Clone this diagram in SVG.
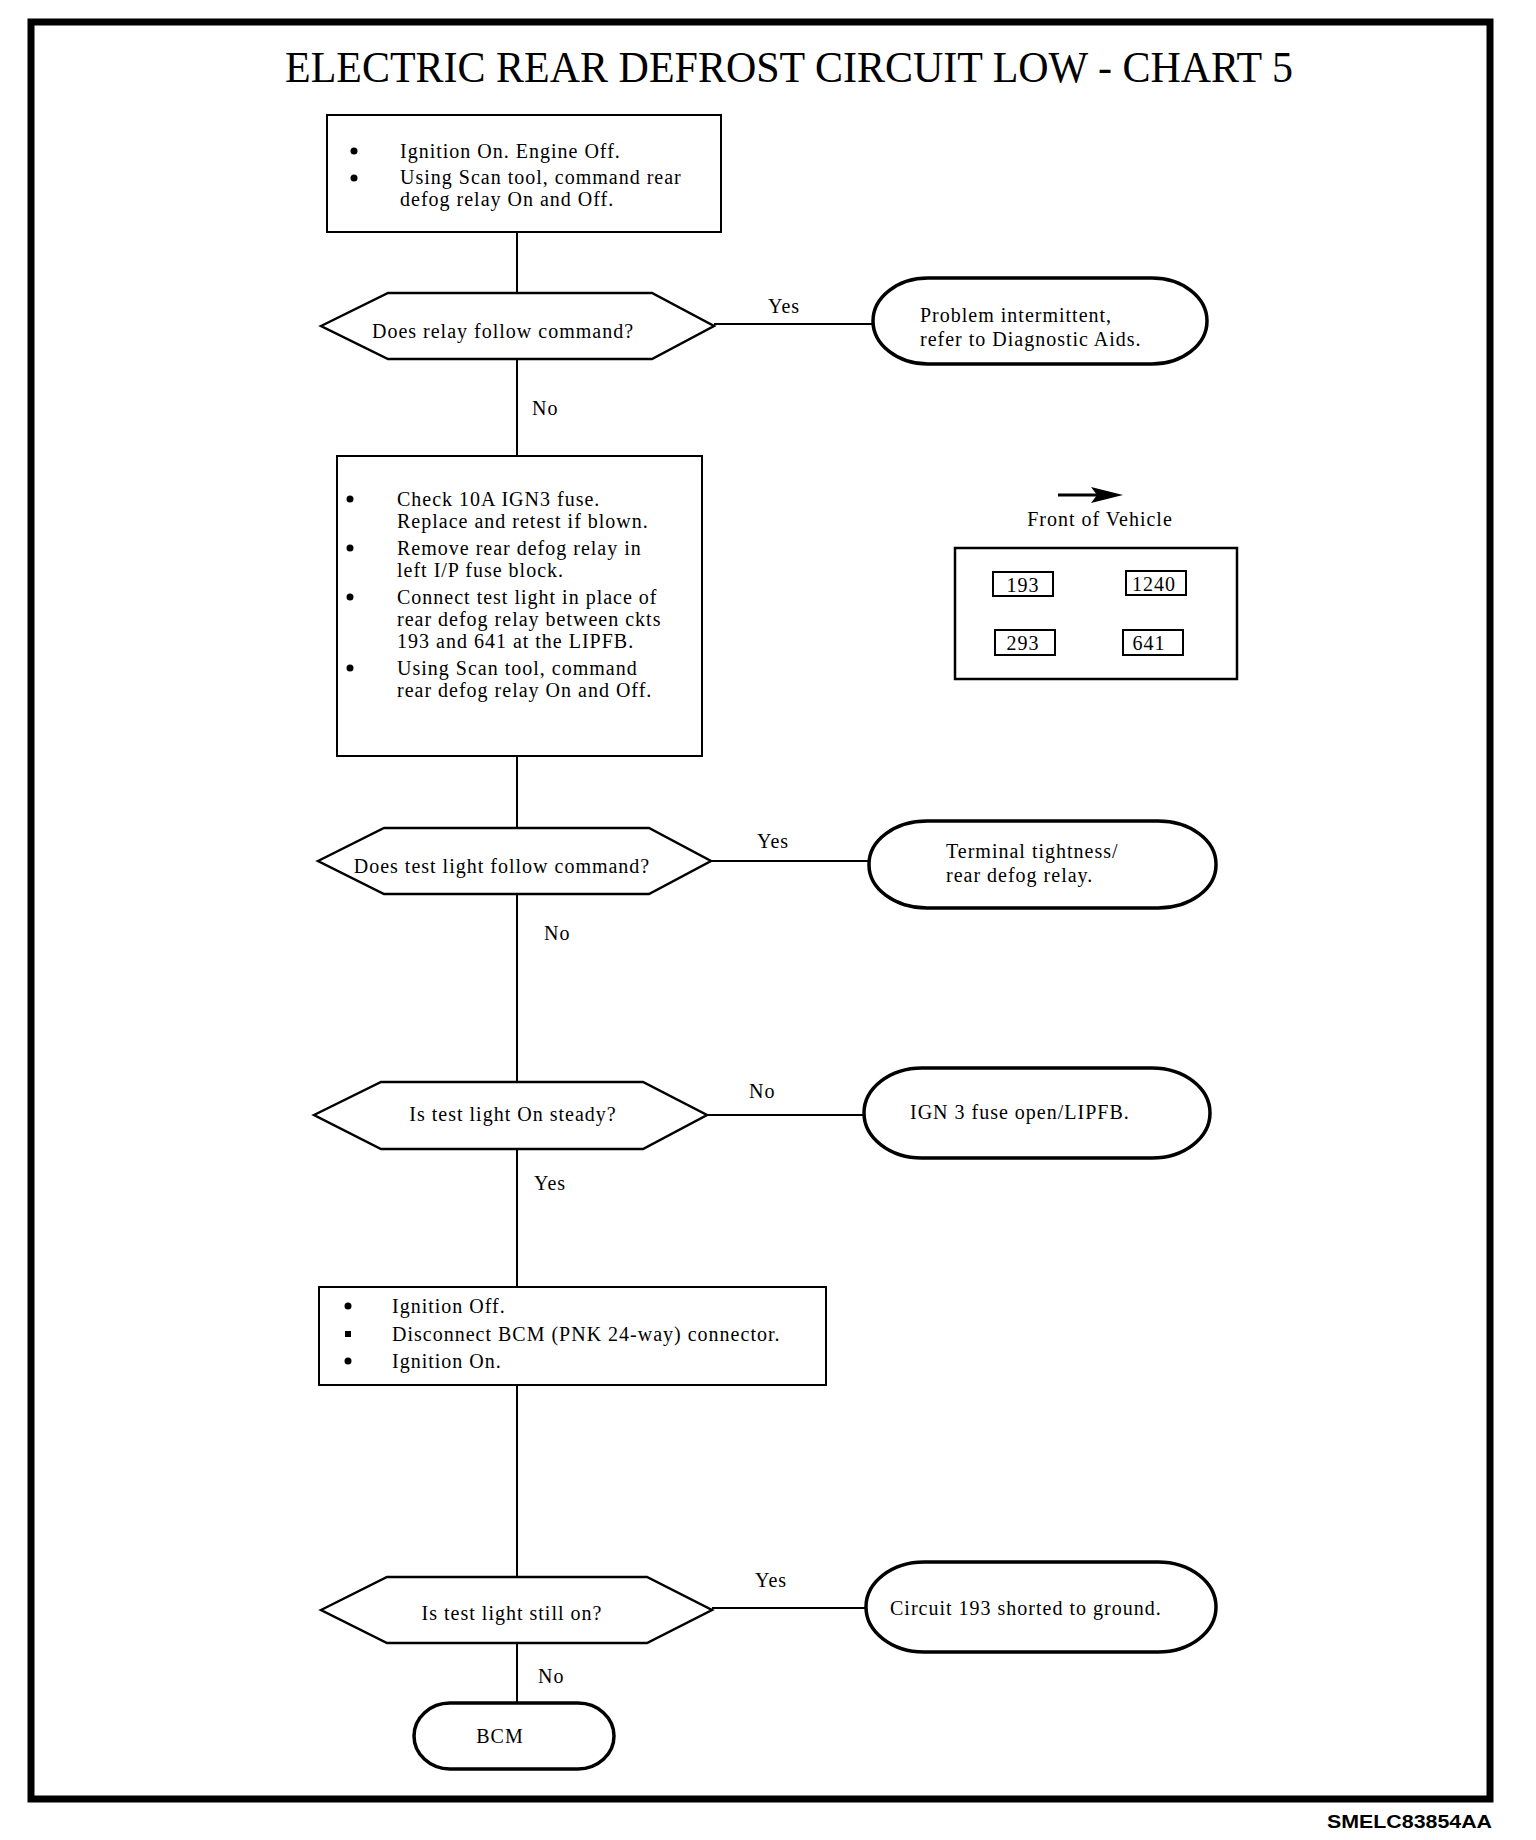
<svg xmlns="http://www.w3.org/2000/svg" width="1536" height="1840" viewBox="0 0 1536 1840">
<defs>
<style>
.t{font-family:"Liberation Serif","Times New Roman",serif;font-size:20px;letter-spacing:1px;fill:#000}
.c{text-anchor:middle}
.box{fill:#fff;stroke:#000;stroke-width:2}
.dia{fill:#fff;stroke:#000;stroke-width:2.5}
.pill{fill:#fff;stroke:#000;stroke-width:3.5}
.ln{stroke:#000;stroke-width:2;fill:none}
.sm{fill:#fff;stroke:#000;stroke-width:2}
</style>
</defs>
<rect width="1536" height="1840" fill="#fff"/>
<rect x="31" y="22" width="1459" height="1777" fill="none" stroke="#000" stroke-width="7"/>
<text x="285" y="82" font-family="Liberation Serif,Times New Roman,serif" font-size="45" textLength="1008" lengthAdjust="spacingAndGlyphs">ELECTRIC REAR DEFROST CIRCUIT LOW - CHART 5</text>

<g id="connectors">
<line class="ln" x1="517" y1="232" x2="517" y2="293"/>
<line class="ln" x1="517" y1="359" x2="517" y2="456"/>
<line class="ln" x1="714" y1="324" x2="873" y2="324"/>
<line class="ln" x1="517" y1="756" x2="517" y2="828"/>
<line class="ln" x1="711" y1="861" x2="869" y2="861"/>
<line class="ln" x1="517" y1="894" x2="517" y2="1082"/>
<line class="ln" x1="707" y1="1115" x2="864" y2="1115"/>
<line class="ln" x1="517" y1="1149" x2="517" y2="1287"/>
<line class="ln" x1="517" y1="1385" x2="517" y2="1577"/>
<line class="ln" x1="712" y1="1608" x2="866" y2="1608"/>
<line class="ln" x1="517" y1="1643" x2="517" y2="1703"/>
<text class="t" x="768" y="313">Yes</text>
<text class="t" x="532" y="415">No</text>
<text class="t" x="757" y="848">Yes</text>
<text class="t" x="544" y="940">No</text>
<text class="t" x="749" y="1098">No</text>
<text class="t" x="534" y="1190">Yes</text>
<text class="t" x="755" y="1587">Yes</text>
<text class="t" x="538" y="1683">No</text>
</g>

<g id="step1">
<rect class="box" x="327" y="115" width="394" height="117"/>
<circle cx="354" cy="151" r="3.5"/>
<circle cx="354" cy="178" r="3.5"/>
<text class="t" x="400" y="158">Ignition On. Engine Off.</text>
<text class="t" x="400" y="184">Using Scan tool, command rear</text>
<text class="t" x="400" y="206">defog relay On and Off.</text>
</g>

<g id="q1">
<polygon class="dia" points="321,326 388,293 652,293 714,326 652,359 388,359"/>
<text class="t c" x="503" y="338">Does relay follow command?</text>
</g>

<g id="end1">
<rect class="pill" x="873" y="278" width="334" height="86" rx="55" ry="43"/>
<text class="t" x="920" y="322">Problem intermittent,</text>
<text class="t" x="920" y="346">refer to Diagnostic Aids.</text>
</g>

<g id="step2">
<rect class="box" x="337" y="456" width="365" height="300"/>
<circle cx="350" cy="499" r="3.5"/>
<circle cx="350" cy="548" r="3.5"/>
<circle cx="350" cy="597" r="3.5"/>
<circle cx="350" cy="668" r="3.5"/>
<text class="t" x="397" y="506">Check 10A IGN3 fuse.</text>
<text class="t" x="397" y="528">Replace and retest if blown.</text>
<text class="t" x="397" y="555">Remove rear defog relay in</text>
<text class="t" x="397" y="577">left I/P fuse block.</text>
<text class="t" x="397" y="604">Connect test light in place of</text>
<text class="t" x="397" y="626">rear defog relay between ckts</text>
<text class="t" x="397" y="648">193 and 641 at the LIPFB.</text>
<text class="t" x="397" y="675">Using Scan tool, command</text>
<text class="t" x="397" y="697">rear defog relay On and Off.</text>
</g>

<g id="legend">
<line x1="1058" y1="495" x2="1100" y2="495" stroke="#000" stroke-width="3"/>
<path d="M1091,487 L1123,495 L1091,503 L1097,495 Z" fill="#000"/>
<text class="t c" x="1100" y="526">Front of Vehicle</text>
<rect x="955" y="548" width="282" height="131" fill="none" stroke="#000" stroke-width="2.5"/>
<rect class="sm" x="993" y="572" width="60" height="24"/>
<text class="t c" x="1023" y="592">193</text>
<rect class="sm" x="1126" y="571" width="60" height="24"/>
<text class="t c" x="1154" y="591">1240</text>
<rect class="sm" x="995" y="630" width="60" height="25"/>
<text class="t c" x="1023" y="650">293</text>
<rect class="sm" x="1123" y="630" width="60" height="25"/>
<text class="t c" x="1149" y="650">641</text>
</g>

<g id="q2">
<polygon class="dia" points="318,861 384,828 649,828 711,861 649,894 384,894"/>
<text class="t c" x="502" y="873">Does test light follow command?</text>
</g>

<g id="end2">
<rect class="pill" x="869" y="821" width="347" height="87" rx="58" ry="43"/>
<text class="t" x="946" y="858">Terminal tightness/</text>
<text class="t" x="946" y="882">rear defog relay.</text>
</g>

<g id="q3">
<polygon class="dia" points="314,1115 381,1082 643,1082 707,1115 643,1149 381,1149"/>
<text class="t c" x="513" y="1121">Is test light On steady?</text>
</g>

<g id="end3">
<rect class="pill" x="864" y="1068" width="346" height="90" rx="58" ry="45"/>
<text class="t" x="910" y="1119">IGN 3 fuse open/LIPFB.</text>
</g>

<g id="step3">
<rect class="box" x="319" y="1287" width="507" height="98"/>
<circle cx="348" cy="1306" r="3.5"/>
<rect x="345" y="1331" width="6" height="6"/>
<circle cx="348" cy="1361" r="3.5"/>
<text class="t" x="392" y="1313">Ignition Off.</text>
<text class="t" x="392" y="1341">Disconnect BCM (PNK 24-way) connector.</text>
<text class="t" x="392" y="1368">Ignition On.</text>
</g>

<g id="q4">
<polygon class="dia" points="321,1610 387,1577 647,1577 712,1610 647,1643 387,1643"/>
<text class="t c" x="512" y="1620">Is test light still on?</text>
</g>

<g id="end4">
<rect class="pill" x="866" y="1562" width="350" height="90" rx="58" ry="45"/>
<text class="t" x="890" y="1615">Circuit 193 shorted to ground.</text>
</g>

<g id="end5">
<rect class="pill" x="414" y="1703" width="200" height="66" rx="36" ry="33"/>
<text class="t c" x="500" y="1743">BCM</text>
</g>

<text x="1327" y="1828" font-family="Liberation Sans,Arial,sans-serif" font-size="19" font-weight="bold" textLength="165" lengthAdjust="spacingAndGlyphs">SMELC83854AA</text>
</svg>
